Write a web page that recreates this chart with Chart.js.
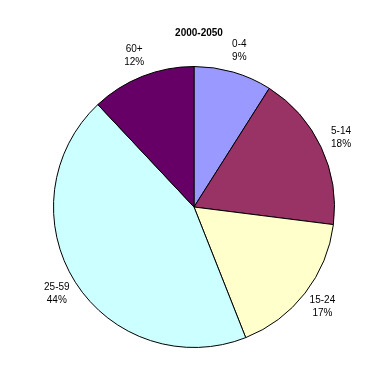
<!DOCTYPE html>
<html>
<head>
<meta charset="utf-8">
<script src="https://cdn.jsdelivr.net/npm/chart.js@4"></script>
<style>
  html, body { margin: 0; padding: 0; background: #fff; }
  #wrap { width: 390px; height: 390px; }
</style>
</head>
<body>
<div id="wrap"><canvas id="pie" width="390" height="390"></canvas></div>
<script>
// ── Data ──
const chartTitle = '2000-2050';
const ageGroups = ['0-4', '5-14', '15-24', '25-59', '60+'];
const shares = [9, 18, 17, 44, 12];
const sliceColors = ['#9999FF', '#993366', '#FFFFCC', '#CCFFFF', '#660066'];

const FONT = '"Liberation Sans", Arial, sans-serif';

// title + outside labels (name over percent)
const labelPlugin = {
    id: 'outsideLabels',
    afterDatasetsDraw(chart) {
        const ctx = chart.ctx;
        const meta = chart.getDatasetMeta(0);
        const total = shares.reduce((a, b) => a + b, 0);
        ctx.save();
        ctx.fillStyle = '#000';
        ctx.textAlign = 'center';
        ctx.textBaseline = 'middle';
        ctx.font = '10px ' + FONT;
        meta.data.forEach((arc, i) => {
            const mid = (arc.startAngle + arc.endAngle) / 2;
            const r = arc.outerRadius + 22;
            const x = arc.x + Math.cos(mid) * r;
            const y = arc.y + Math.sin(mid) * r;
            ctx.fillText(ageGroups[i], x, y - 6.5);
            ctx.fillText(Math.round(shares[i] / total * 100) + '%', x, y + 6.5);
        });
        ctx.font = 'bold 10px ' + FONT;
        ctx.fillText(chartTitle, 199, 33);
        ctx.restore();
    }
};

new Chart(document.getElementById('pie'), {
    type: 'pie',
    data: {
        labels: ageGroups,
        datasets: [{
            data: shares,
            backgroundColor: sliceColors,
            borderColor: '#000',
            borderWidth: 1
        }]
    },
    options: {
        responsive: false,
        animation: false,
        layout: { padding: { left: 53, right: 55, top: 66, bottom: 42 } },
        plugins: {
            legend: { display: false },
            tooltip: { enabled: false }
        }
    },
    plugins: [labelPlugin]
});
</script>
</body>
</html>
